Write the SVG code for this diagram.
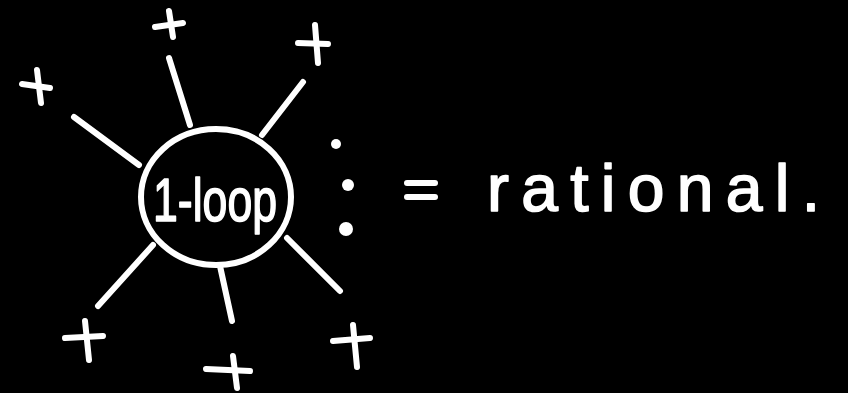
<svg xmlns="http://www.w3.org/2000/svg" width="848" height="393" viewBox="0 0 848 393">
<style>
.ink{stroke:#fff;stroke-width:6;stroke-linecap:round;stroke-linejoin:round;fill:none}
.txt{fill:#fff;stroke:#fff;stroke-width:1.6;stroke-linejoin:round;font-family:"Liberation Sans","DejaVu Sans",sans-serif}
.dot{fill:#fff}
</style>
<rect width="848" height="393" fill="#000"/>
<g id="connectors" class="ink">
<line x1="169" y1="58" x2="190" y2="125"/>
<line x1="303" y1="82" x2="262" y2="135"/>
<line x1="74" y1="117" x2="139" y2="165"/>
<line x1="153" y1="245" x2="98" y2="306"/>
<line x1="220" y1="266" x2="232" y2="321"/>
<line x1="287" y1="238" x2="340" y2="291"/>
</g>
<g id="loop">
<ellipse class="ink" cx="216" cy="197" rx="75" ry="68" stroke-width="6.5"/>
<text class="txt" x="153" y="221" font-size="62" textLength="124" lengthAdjust="spacingAndGlyphs">1-loop</text>
</g>
<g id="plus-top" class="ink"><line x1="155" y1="27" x2="183" y2="23"/><line x1="169" y1="11" x2="173" y2="37"/></g>
<g id="plus-top-right" class="ink"><line x1="298" y1="43" x2="328" y2="44"/><line x1="315" y1="25" x2="318" y2="63"/></g>
<g id="plus-top-left" class="ink"><line x1="22" y1="84" x2="50" y2="88"/><line x1="37" y1="70" x2="41" y2="103"/></g>
<g id="plus-bottom-left" class="ink"><line x1="65" y1="338" x2="103" y2="336"/><line x1="85" y1="321" x2="89" y2="360"/></g>
<g id="plus-bottom" class="ink"><line x1="206" y1="369" x2="250" y2="371"/><line x1="233" y1="356" x2="237" y2="388"/></g>
<g id="plus-bottom-right" class="ink"><line x1="333" y1="341" x2="370" y2="338"/><line x1="353" y1="325" x2="357" y2="367"/></g>
<g id="vdots">
<circle class="dot" cx="336" cy="144" r="5"/>
<circle class="dot" cx="348" cy="185" r="6"/>
<circle class="dot" cx="346" cy="229" r="7"/>
</g>
<g id="equals" class="ink">
<line x1="407" y1="183" x2="435" y2="183"/>
<line x1="407" y1="197" x2="435" y2="197"/>
</g>
<g id="rational">
<text class="txt" x="487" y="211" font-size="66" textLength="333" lengthAdjust="spacing">rational.</text>
</g>
</svg>
